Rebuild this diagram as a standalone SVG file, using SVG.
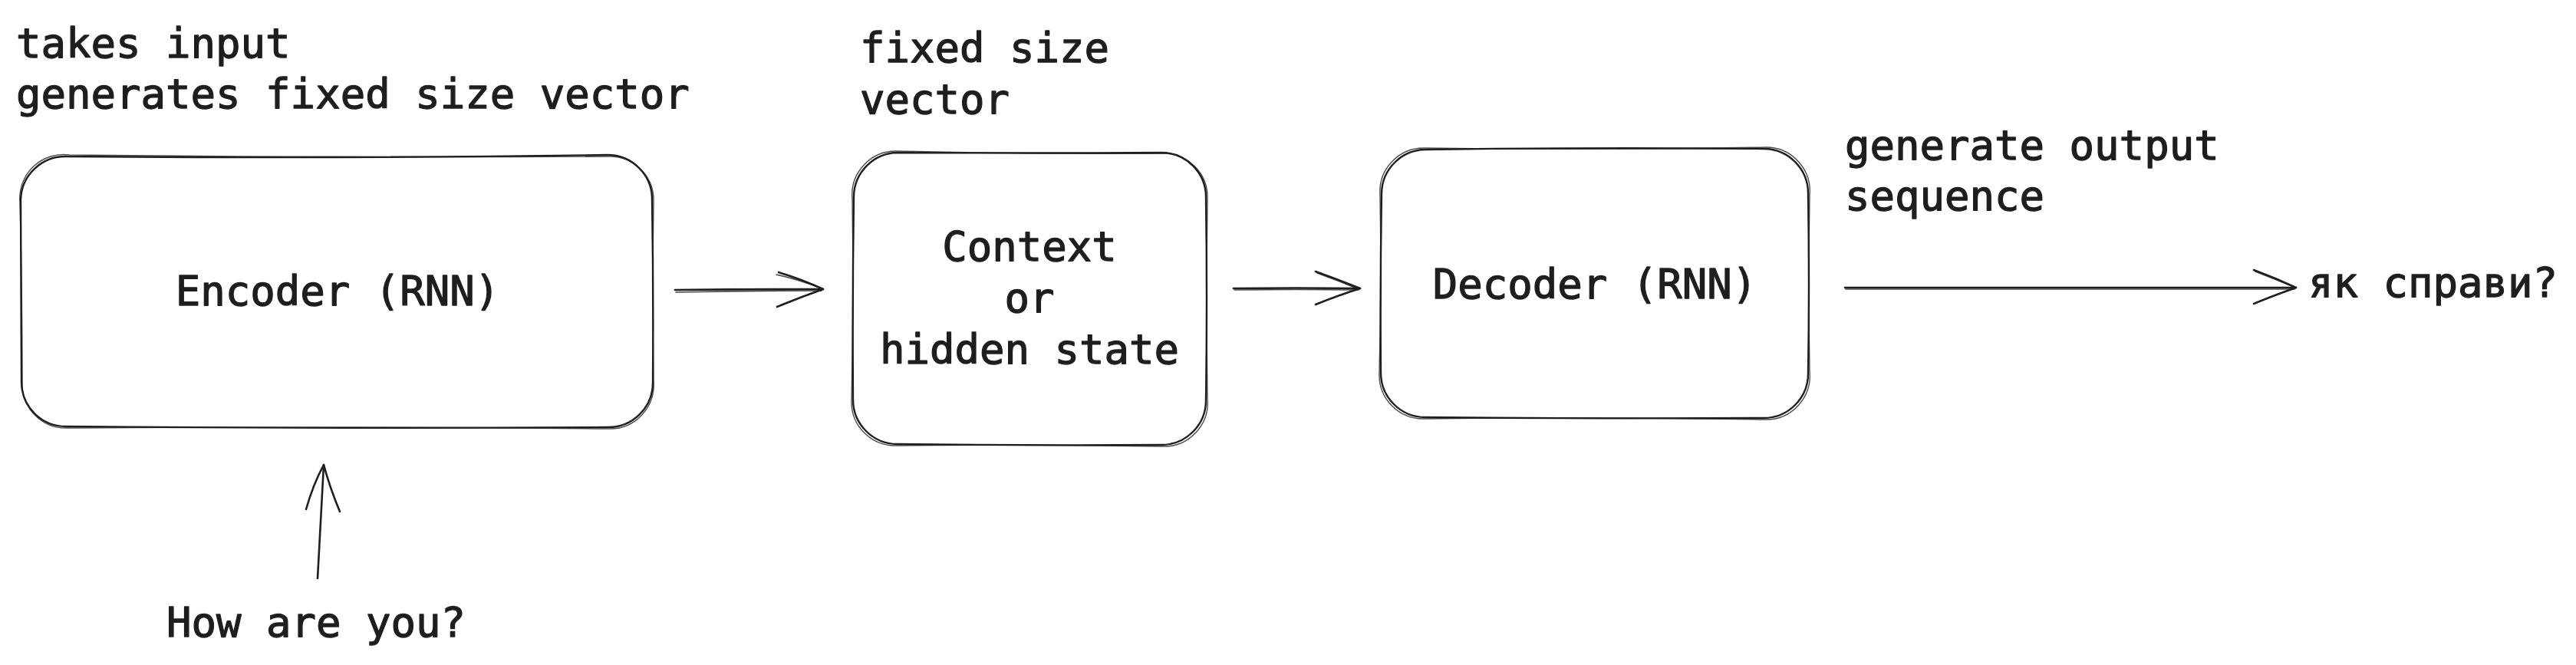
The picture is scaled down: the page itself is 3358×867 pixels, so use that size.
<svg xmlns="http://www.w3.org/2000/svg" width="3358" height="867" viewBox="0 0 3358 867">
<style>
  text { font-family: "DejaVu Sans Mono", "Liberation Mono", monospace; font-size: 54px; fill: #1e1e1e; stroke: #1e1e1e; stroke-width: 1.3; stroke-linejoin: round; }
  .mid { text-anchor: middle; }
  .box { fill: none; stroke: #1e1e1e; stroke-width: 2.4; stroke-linecap: round; stroke-linejoin: round; }
  .box2 { fill: none; stroke: #1e1e1e; stroke-width: 1.4; stroke-linecap: round; stroke-linejoin: round; opacity: 0.8; }
  .con { fill: none; stroke: #1e1e1e; stroke-width: 2.6; stroke-linecap: round; stroke-linejoin: round; }
  .con2 { fill: none; stroke: #1e1e1e; stroke-width: 1.6; stroke-linecap: round; opacity: 0.8; }
</style>
<rect width="3358" height="867" fill="#ffffff"/>

<g id="encoder">
  <path class="box" d="M87,204 Q460,207 792,202 A58,58 0 0 1 850,260 Q852,380 851,500 A58,58 0 0 1 793,557 Q460,559 86,556 A58,58 0 0 1 28,498 Q27,380 27,262 A58,58 0 0 1 87,204 Z"/>
  <path class="box2" d="M90,202 Q460,206 794,204 A57,57 0 0 1 852,262 Q850,380 852,498 A57,57 0 0 1 795,559 Q460,556 88,558 A57,57 0 0 1 29,500 Q29,380 26,264 A57,57 0 0 1 90,202"/>
  <text class="mid" x="440" y="398">Encoder (RNN)</text>
</g>

<g id="context">
  <path class="box" d="M1170,199 Q1342,200 1515,199 A58,58 0 0 1 1572,257 Q1574,390 1572,522 A58,58 0 0 1 1514,580 Q1342,581 1170,579 A58,58 0 0 1 1112,521 Q1111,390 1113,257 A58,58 0 0 1 1170,199 Z"/>
  <path class="box2" d="M1168,197 Q1342,201 1517,200 A57,57 0 0 1 1574,259 Q1572,390 1574,520 A57,57 0 0 1 1516,582 Q1342,579 1168,581 A57,57 0 0 1 1110,523 Q1113,390 1111,259 A57,57 0 0 1 1168,197"/>
  <text class="mid" x="1342" y="340">Context</text>
  <text class="mid" x="1342" y="407">or</text>
  <text class="mid" x="1342" y="474">hidden state</text>
</g>

<g id="decoder">
  <path class="box" d="M1858,195 Q2079,192 2300,194 A58,58 0 0 1 2357,252 Q2359,370 2357,487 A58,58 0 0 1 2299,545 Q2079,546 1858,544 A58,58 0 0 1 1800,486 Q1799,370 1801,252 A58,58 0 0 1 1858,195 Z"/>
  <path class="box2" d="M1856,193 Q2079,196 2302,192 A57,57 0 0 1 2359,254 Q2357,370 2359,485 A57,57 0 0 1 2301,547 Q2079,543 1856,546 A57,57 0 0 1 1798,488 Q1801,370 1799,254 A57,57 0 0 1 1856,193"/>
  <text class="mid" x="2079" y="389">Decoder (RNN)</text>
</g>

<g id="labels">
  <text x="21" y="75">takes input</text>
  <text x="21" y="141">generates fixed size vector</text>
  <text x="1121" y="81">fixed size</text>
  <text x="1121" y="148">vector</text>
  <text x="2405" y="208">generate output</text>
  <text x="2405" y="274">sequence</text>
  <text x="3009" y="387">як справи?</text>
  <text x="217" y="830">How are you?</text>
</g>

<g id="connectors">
  <!-- encoder -> context -->
  <path class="con" d="M880,378 Q975,377 1073,377"/>
  <path class="con2" d="M881,381 Q975,379 1071,379"/>
  <path class="con" d="M1015,355 Q1045,364 1073,377 Q1042,388 1013,400"/>
  <path class="con2" d="M1012,358 Q1043,365 1071,376"/>
  <!-- context -> decoder -->
  <path class="con" d="M1608,376 Q1690,375 1773,376"/>
  <path class="con2" d="M1609,378 Q1690,377 1771,378"/>
  <path class="con" d="M1715,354 Q1740,363 1773,376 Q1742,386 1715,397"/>
  <path class="con2" d="M1717,356 Q1745,366 1771,377"/>
  <!-- decoder -> output -->
  <path class="con" d="M2405,375 Q2700,374 2993,375"/>
  <path class="con2" d="M2406,377 Q2700,376 2991,377"/>
  <path class="con" d="M2938,352 Q2965,362 2993,375 Q2962,386 2938,396"/>
  <path class="con2" d="M2940,354 Q2968,365 2991,374"/>
  <!-- input -> encoder -->
  <path class="con" d="M414,754 Q418,680 422,606"/>
  <path class="con" d="M399,664 Q408,632 422,606 Q430,636 443,667"/>
</g>
</svg>
